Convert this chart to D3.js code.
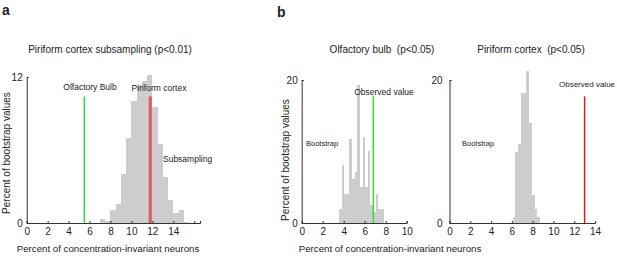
<!DOCTYPE html>
<html>
<head>
<meta charset="utf-8">
<script src="https://cdn.jsdelivr.net/npm/d3@7"></script>
<style>
  html, body { margin: 0; padding: 0; background: #fff; }
  svg { display: block; font-family: "Liberation Sans", Arial, sans-serif; }
  text { fill: #222; white-space: pre; }
</style>
</head>
<body>
<div id="chart"></div>
<script>
// Panel a: piriform subsampling histogram (bins 0.5 wide)
var subBinStart = 7.0;
var subBinWidth = 0.5;
var subCounts = [0.3, 0.2, 1.07, 1.56, 4.0, 7.0, 10.0, 11.35, 11.67, 12.2, 9.5, 6.5, 3.8, 1.9, 0.8, 1.07, 0.1];
var subBulbValue = 5.5;
var subPiriformValue = 11.8;
var subLineTop = 10.4;

// Panel b left: olfactory bulb bootstrap (bins 0.25 wide)
var obBinStart = 3.55;
var obBinWidth = 0.25;
var obCounts = [2.0, 8.1, 4.0, 4.0, 11.8, 6.2, 7.1, 19.3, 5.0, 12.0, 5.0, 10.1, 2.5, 1.6, 4.0, 2.0, 2.0];
var obObserved = 6.82;

// Panel b right: piriform cortex bootstrap
var pcBinStart = 6.07;
var pcBinWidth = 0.265;
var pcCounts = [0.9, 10.0, 11.0, 18.2, 18.2, 21.3, 14.0, 3.95, 2.0, 0.9];
var pcObserved = 13.0;
var obsLineTop = 17.7;

// Tick labels
var subXTicks = [0, 2, 4, 6, 8, 10, 12, 14, 16];
var subYTicks = [0, 12];
var obXTicks = [0, 2, 4, 6, 8, 10];
var pcXTicks = [0, 2, 4, 6, 8, 10, 12, 14];
var bYTicks = [0, 20];

(function () {
  'use strict';

  var d3 = window.d3;
  var width = 617;
  var height = 257;
  var barColor = '#cdcdcd';
  var axisColor = '#333';

  var svg = d3.select('#chart')
    .append('svg')
    .attr('width', width)
    .attr('height', height);

  /**
   * Turn a start / width / counts triple into bin objects.
   */
  function toBins(start, w, counts) {
    return counts.map(function (c, i) {
      return { x0: start + i * w, x1: start + (i + 1) * w, v: c };
    });
  }

  /**
   * Draw one histogram panel with its axes.
   */
  function panel(opts) {
    var g = svg.append('g');
    var x = d3.scaleLinear().domain(opts.xDomain).range(opts.xRange);
    var y = d3.scaleLinear().domain(opts.yDomain).range([223, opts.yTop]);

    // bars
    g.append('g').selectAll('rect')
      .data(toBins(opts.start, opts.binWidth, opts.counts))
      .enter().append('rect')
      .attr('x', function (d) { return x(d.x0); })
      .attr('width', function (d) { return x(d.x1) - x(d.x0); })
      .attr('y', function (d) { return y(d.v); })
      .attr('height', function (d) { return y(0) - y(d.v); })
      .attr('fill', barColor)
      .attr('shape-rendering', 'crispEdges');

    // x axis
    var xa = g.append('g')
      .attr('transform', 'translate(0,' + y(0) + ')')
      .call(d3.axisBottom(x)
        .tickValues(opts.xTicks)
        .tickSize(-2)
        .tickPadding(5)
        .tickFormat(function (d) { return opts.hideTick === d ? '' : d; }));

    // y axis
    var ya = g.append('g')
      .attr('transform', 'translate(' + x(0) + ',0)')
      .call(d3.axisLeft(y)
        .tickValues(opts.yTicks)
        .tickSize(-2)
        .tickPadding(opts.yPad));

    [xa, ya].forEach(function (a) {
      a.select('.domain').attr('stroke', axisColor).attr('stroke-width', 1);
      a.selectAll('.tick line').attr('stroke', axisColor);
      a.selectAll('.tick text').attr('font-size', 10).style('fill', '#222');
    });

    // marker lines
    (opts.lines || []).forEach(function (l) {
      g.append('line')
        .attr('x1', x(l.value)).attr('x2', x(l.value))
        .attr('y1', y(0)).attr('y2', y(l.top))
        .attr('stroke', l.color)
        .attr('stroke-width', l.w)
        .attr('opacity', l.opacity || 1);
    });

    return g;
  }

  function label(txt, x, y, size, anchor, extra) {
    var t = svg.append('text')
      .attr('x', x).attr('y', y)
      .attr('font-size', size)
      .attr('text-anchor', anchor || 'start')
      .text(txt);
    if (extra) extra(t);
    return t;
  }

  // --- Panel a ---
  panel({
    xDomain: [0, 16.55], xRange: [26.7, 200],
    yDomain: [0, 12], yTop: 77,
    start: subBinStart, binWidth: subBinWidth, counts: subCounts,
    xTicks: subXTicks, yTicks: subYTicks, hideTick: 16, yPad: 4,
    lines: [
      { value: subBulbValue, top: subLineTop, color: '#2ee02e', w: 1.5 },
      { value: subPiriformValue, top: subLineTop, color: '#e04848', w: 3, opacity: 0.85 }
    ]
  });

  // --- Panel b left ---
  panel({
    xDomain: [0, 10], xRange: [301.7, 406.7],
    yDomain: [0, 20], yTop: 80,
    start: obBinStart, binWidth: obBinWidth, counts: obCounts,
    xTicks: obXTicks, yTicks: bYTicks, yPad: 4,
    lines: [{ value: obObserved, top: obsLineTop, color: '#2ee02e', w: 1.5 }]
  });

  // --- Panel b right ---
  panel({
    xDomain: [0, 14], xRange: [449.5, 595],
    yDomain: [0, 20], yTop: 80,
    start: pcBinStart, binWidth: pcBinWidth, counts: pcCounts,
    xTicks: pcXTicks, yTicks: bYTicks, yPad: 7,
    lines: [{ value: pcObserved, top: obsLineTop, color: '#d81e1e', w: 1.5 }]
  });

  // panel letters
  label('a', 2, 15, 14, 'start', function (t) { t.attr('font-weight', 'bold'); });
  label('b', 277, 17, 14, 'start', function (t) { t.attr('font-weight', 'bold'); });

  // titles
  label('Piriform cortex subsampling (p<0.01)', 110, 53, 10, 'middle');
  label('Olfactory bulb  (p<0.05)', 382, 53, 10, 'middle');
  label('Piriform cortex  (p<0.05)', 531, 53, 10, 'middle');

  // annotations
  label('Olfactory Bulb', 90, 90, 8.5, 'middle');
  label('Piriform cortex', 159, 91, 8.5, 'middle');
  label('Subsampling', 163, 162, 8.5, 'start');
  label('Observed value', 384, 95, 8.5, 'middle');
  label('Observed value', 559, 87, 8, 'start');
  label('Bootstrap', 306, 146, 7.5, 'start');
  label('Bootstrap', 462, 146, 7.5, 'start');

  // axis titles
  label('Percent of bootstrap values', 0, 0, 10, 'middle', function (t) {
    t.attr('transform', 'translate(10,153) rotate(-90)');
  });
  label('Percent of bootstrap values', 0, 0, 10, 'middle', function (t) {
    t.attr('transform', 'translate(289,160) rotate(-90)');
  });
  label('Percent of concentration-invariant neurons', 108, 252, 9.7, 'middle');
  label('Percent of concentration-invariant neurons', 390, 252, 9.7, 'middle');
})();
</script>
</body>
</html>
